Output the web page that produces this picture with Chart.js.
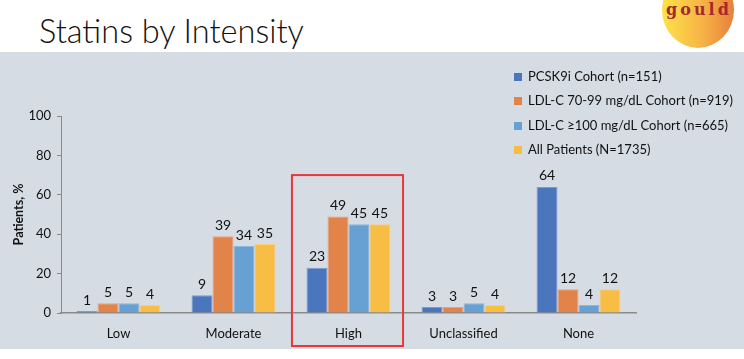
<!DOCTYPE html>
<html>
<head>
<meta charset="utf-8">
<script src="https://cdn.jsdelivr.net/npm/chart.js@4/dist/chart.umd.min.js"></script>
<style>
  html, body { margin:0; padding:0; background:#fff; width:744px; height:359px; overflow:hidden; }
  #title { position:absolute; left:39px; top:11px; font-family:Lato, sans-serif; font-weight:300; font-size:32.5px; color:#111; white-space:nowrap; }
  #panel { position:absolute; left:0; top:52px; width:744px; height:297px; background:#D6DCE4; }
  #logo { position:absolute; left:662px; top:-28px; width:72px; height:76px; border-radius:50%;
          background:linear-gradient(90deg,#FDE34A 0%,#F7B446 55%,#E7803C 100%); }
  #logotext { position:absolute; left:663px; top:0px; width:72px; text-align:center; font-family:"DejaVu Serif", serif; font-weight:bold; font-size:16px; letter-spacing:3px; color:#A6282C; }
  #wrap { position:absolute; left:0; top:52px; width:744px; height:297px; }
</style>
</head>
<body>
<div id="title">Statins by Intensity</div>
<div id="panel"></div>
<div id="logo"></div>
<div id="logotext">gould</div>
<div id="wrap"><canvas id="c" width="744" height="297"></canvas></div>
<script>
const categories = ["Low", "Moderate", "High", "Unclassified", "None"];
const seriesNames = ["PCSK9i Cohort (n=151)", "LDL-C 70-99 mg/dL Cohort (n=919)", "LDL-C \u2265100 mg/dL Cohort (n=665)", "All Patients (N=1735)"];
const pcsk9i = [1, 9, 23, 3, 64];
const ldl7099 = [5, 39, 49, 3, 12];
const ldl100 = [5, 34, 45, 5, 4];
const allPatients = [4, 35, 45, 4, 12];
const yTicks = [0, 20, 40, 60, 80, 100];
const yTitle = "Patients, %";

const colors = ["#4A76BE", "#E2834A", "#67A0D3", "#F8BD45"];
const borders = ["#7C9CD0", "#EBA27A", "#8DB8DF", "#FAD07E"];
const seriesValues = [pcsk9i, ldl7099, ldl100, allPatients];

const FONT = "Lato, 'Open Sans', sans-serif";

const labelPlugin = {
  id: 'labels',
  afterDatasetsDraw(chart) {
    const ctx = chart.ctx;
    ctx.save();
    ctx.font = "14px " + FONT;
    ctx.fillStyle = "#111";
    ctx.textAlign = "center";
    ctx.textBaseline = "bottom";
    chart.data.datasets.forEach((ds, i) => {
      const meta = chart.getDatasetMeta(i);
      meta.data.forEach((bar, j) => {
        ctx.fillText(String(ds.data[j]), bar.x, bar.y - 4);
      });
    });
    // highlight box around "High"
    const xs = chart.scales.x, ys = chart.scales.y;
    const xc = xs.getPixelForValue(2);
    const half = xs.width / categories.length * 0.483;
    ctx.strokeStyle = "#E8373A";
    ctx.lineWidth = 2;
    ctx.strokeRect(xc - half - 1, ys.getPixelForValue(70), half * 2, chart.chartArea.bottom + 33 - ys.getPixelForValue(70));
    // legend
    ctx.font = "13px " + FONT;
    ctx.textAlign = "left";
    ctx.textBaseline = "middle";
    const rowY = [25, 49, 74, 98];
    chart.data.datasets.forEach((ds, i) => {
      ctx.fillStyle = ds.backgroundColor;
      ctx.fillRect(514, rowY[i] - 4, 8, 8);
      ctx.fillStyle = "#111";
      ctx.fillText(ds.label, 528, rowY[i]);
    });
    ctx.restore();
  }
};

new Chart(document.getElementById('c'), {
  type: 'bar',
  data: {
    labels: categories,
    datasets: seriesNames.map((n, i) => ({
      label: n,
      data: seriesValues[i],
      backgroundColor: colors[i],
      borderColor: borders[i],
      borderWidth: 1,
      categoryPercentage: 0.73,
      barPercentage: 1.0
    }))
  },
  options: {
    responsive: false,
    animation: false,
    layout: { padding: { left: 0, top: 64, right: 108, bottom: 0 } },
    plugins: { legend: { display: false }, tooltip: { enabled: false } },
    scales: {
      x: {
        grid: { display: false },
        border: { display: true, color: "#8A8A8A", width: 1.5 },
        ticks: { font: { family: FONT, size: 13 }, color: "#111", padding: 5 },
        afterFit(s) { s.height = 36; }
      },
      y: {
        min: 0, max: 100,
        afterBuildTicks(s) { s.ticks = yTicks.map(v => ({ value: v })); },
        grid: { display: true, drawOnChartArea: false, drawTicks: true, tickLength: 4, color: "#8A8A8A" },
        border: { display: true, color: "#8A8A8A", width: 1 },
        ticks: { font: { family: FONT, size: 13 }, color: "#111", padding: 6 },
        title: { display: true, text: yTitle, font: { family: FONT, size: 12.5, weight: 'bold' }, color: "#111", padding: { top: 11, bottom: 0 } },
        afterFit(s) { s.width = 61; }
      }
    }
  },
  plugins: [labelPlugin]
});
</script>
</body>
</html>
